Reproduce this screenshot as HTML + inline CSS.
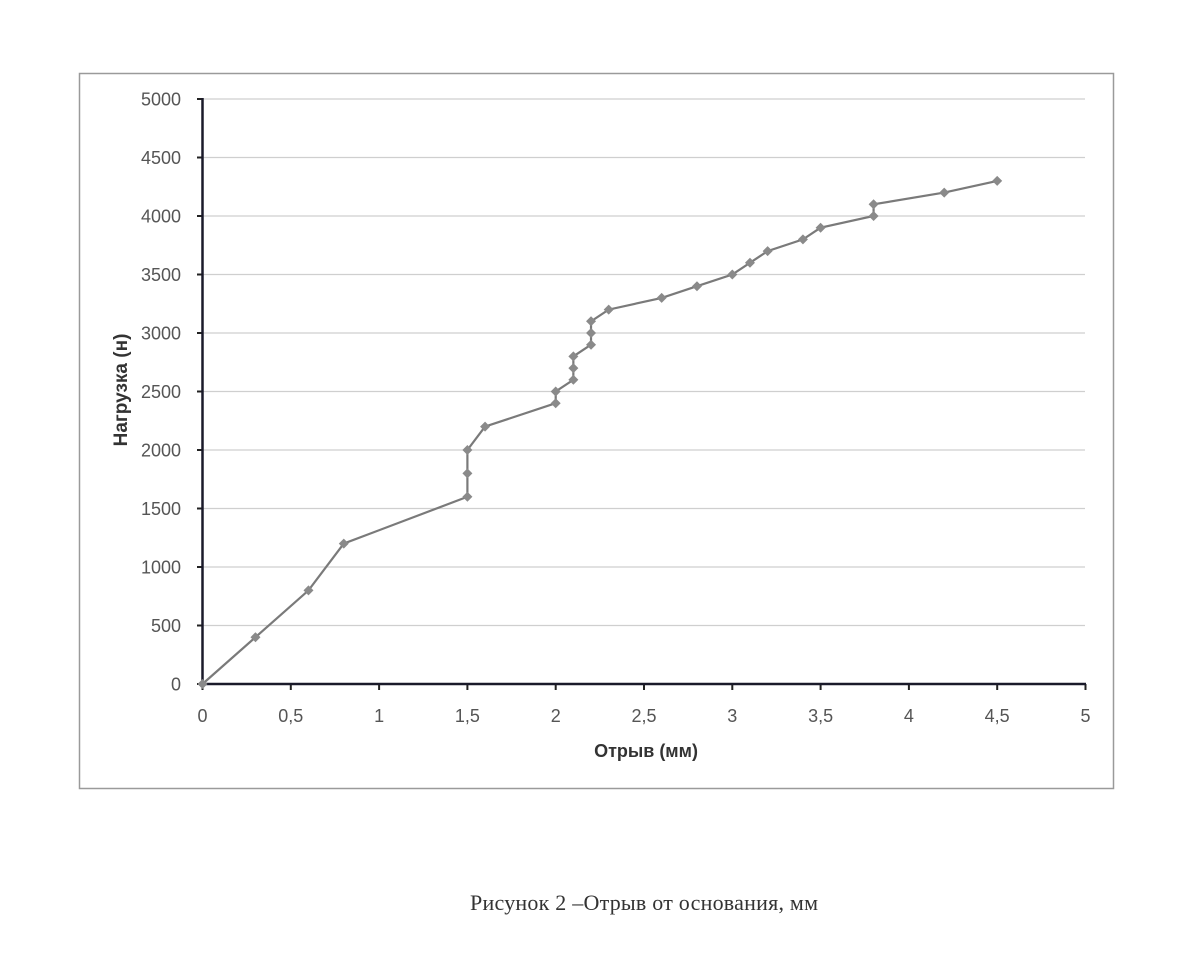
<!DOCTYPE html>
<html><head><meta charset="utf-8"><style>
html,body{margin:0;padding:0;background:#fff;}
body{width:1194px;height:967px;position:relative;overflow:hidden;}
svg{position:absolute;left:0;top:0;}
</style></head><body>
<svg id="s" width="1194" height="967" xmlns="http://www.w3.org/2000/svg" font-family="Liberation Sans, DejaVu Sans, sans-serif">
<rect x="79.5" y="73.5" width="1034" height="715" fill="none" stroke="#9a9a9a" stroke-width="1.5"/>
<g id="g"></g>
<text x="0" y="0" transform="translate(127,390) rotate(-90)" text-anchor="middle" font-size="19" font-weight="bold" fill="#333">Нагрузка (н)</text>
<text x="646" y="757" text-anchor="middle" font-size="18" font-weight="bold" fill="#333">Отрыв (мм)</text>
<text x="470" y="910" font-size="22" font-family="Liberation Serif, serif" fill="#333" textLength="348">Рисунок 2 –Отрыв от основания, мм</text>
</svg>
<script>
var g=document.getElementById('g'),h='';
function X(v){return 202.5+v*176.6;} function Y(v){return 684-v*0.117;}
for(var i=1;i<=10;i++){var y=Y(i*500);h+='<line x1="203" x2="1085" y1="'+y+'" y2="'+y+'" stroke="#cfcfcf" stroke-width="1.2"/>';}
for(var i=0;i<=10;i++){var y=Y(i*500);h+='<line x1="197" x2="203" y1="'+y+'" y2="'+y+'" stroke="#222" stroke-width="2"/>';
h+='<text x="181" y="'+(y+6.5)+'" text-anchor="end" font-size="18" fill="#555">'+(i*500)+'</text>';}
for(var i=0;i<=10;i++){var x=X(i*0.5);h+='<line x1="'+x+'" x2="'+x+'" y1="684" y2="690" stroke="#222" stroke-width="2"/>';
h+='<text x="'+x+'" y="722" text-anchor="middle" font-size="18" fill="#555">'+String(i*0.5).replace('.',',')+'</text>';}
h+='<line x1="202.5" x2="202.5" y1="98" y2="685" stroke="#1a1a2a" stroke-width="2.5"/>';
h+='<line x1="201" x2="1086" y1="684" y2="684" stroke="#1a1a2a" stroke-width="2.5"/>';
var d=[[0,0],[0.3,400],[0.6,800],[0.8,1200],[1.5,1600],[1.5,1800],[1.5,2000],[1.6,2200],[2,2400],[2,2500],[2.1,2600],[2.1,2700],[2.1,2800],[2.2,2900],[2.2,3000],[2.2,3100],[2.3,3200],[2.6,3300],[2.8,3400],[3,3500],[3.1,3600],[3.2,3700],[3.4,3800],[3.5,3900],[3.8,4000],[3.8,4100],[4.2,4200],[4.5,4300]];
var p=d.map(function(a){return X(a[0])+','+Y(a[1]);}).join(' ');
h+='<polyline points="'+p+'" fill="none" stroke="#7a7a7a" stroke-width="2.2"/>';
d.forEach(function(a){var x=X(a[0]),y=Y(a[1]);h+='<polygon points="'+x+','+(y-5)+' '+(x+5)+','+y+' '+x+','+(y+5)+' '+(x-5)+','+y+'" fill="#8a8a8a"/>';});
g.innerHTML=h;
</script>
</body></html>
